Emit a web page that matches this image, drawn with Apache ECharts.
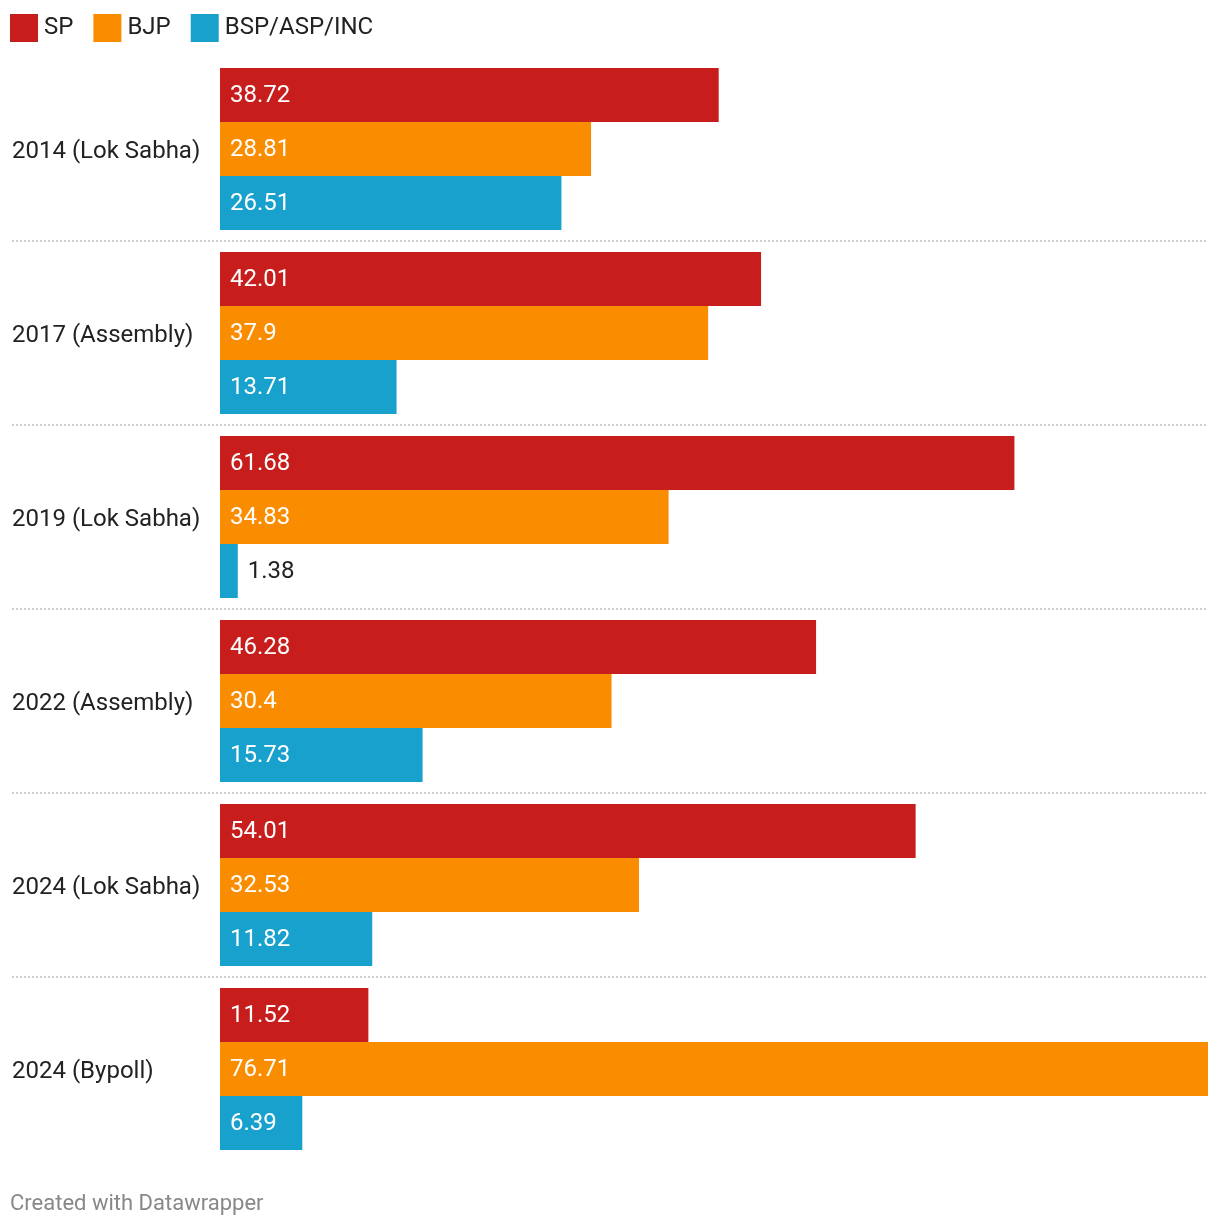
<!DOCTYPE html>
<html>
<head>
<meta charset="utf-8">
<script src="https://cdn.jsdelivr.net/npm/echarts@6/dist/echarts.min.js"></script>
<style>
html,body{margin:0;padding:0;background:#fff;}
#chart{width:1220px;height:1228px;}
</style>
</head>
<body>
<div id="chart"></div>
<script>
const categories = ['2014 (Lok Sabha)', '2017 (Assembly)', '2019 (Lok Sabha)', '2022 (Assembly)', '2024 (Lok Sabha)', '2024 (Bypoll)'];
const seriesNames = ['SP', 'BJP', 'BSP/ASP/INC'];
const spValues = [38.72, 42.01, 61.68, 46.28, 54.01, 11.52];
const bjpValues = [28.81, 37.9, 34.83, 30.4, 32.53, 76.71];
const bspValues = [26.51, 13.71, 1.38, 15.73, 11.82, 6.39];
const colors = ['#c71e1d', '#fa8c00', '#18a1cd'];

const allValues = spValues.concat(bjpValues, bspValues);
const maxVal = Math.max.apply(null, allValues);
const font = 'Roboto, "Noto Sans", sans-serif';

function makeData(vals) {
  return vals.map(function (v) {
    if (v < 5) {
      return { value: v, label: { position: 'right', color: '#222', distance: 10 } };
    }
    return { value: v };
  });
}

const valueSeries = [spValues, bjpValues, bspValues];

const series = valueSeries.map(function (vals, i) {
  return {
    name: seriesNames[i],
    type: 'bar',
    xAxisIndex: 1,
    yAxisIndex: 1,
    barWidth: 54,
    barGap: '0%',
    itemStyle: { color: colors[i] },
    label: {
      show: true,
      position: 'insideLeft',
      distance: 10,
      offset: [0, 1],
      color: '#fff',
      fontFamily: font,
      fontSize: 24,
      formatter: function (p) { return String(p.value); }
    },
    emphasis: { disabled: true },
    animation: false,
    data: makeData(vals)
  };
});

const chart = echarts.init(document.getElementById('chart'), null, { renderer: 'canvas' });
chart.setOption({
  backgroundColor: '#fff',
  animation: false,
  textStyle: { fontFamily: font },
  title: {
    text: 'Created with Datawrapper',
    left: 10,
    top: 1193,
    padding: 0,
    textStyle: { fontFamily: font, fontSize: 22, fontWeight: 'normal', color: '#888' }
  },
  legend: {
    data: seriesNames,
    left: 10,
    top: 14,
    padding: 0,
    itemWidth: 28,
    itemHeight: 28,
    itemGap: 20,
    icon: 'rect',
    selectedMode: false,
    textStyle: { fontFamily: font, fontSize: 24, color: '#222', padding: [0, 0, 0, 1] }
  },
  grid: [
    { left: 12, right: 12, top: 57, height: 1104 },
    { left: 220, right: 12, top: 57, height: 1104 }
  ],
  xAxis: [
    { gridIndex: 0, type: 'value', min: 0, max: 1, show: false },
    { gridIndex: 1, type: 'value', min: 0, max: maxVal, show: false }
  ],
  yAxis: [
    {
      gridIndex: 0, type: 'value', min: 0, max: categories.length, interval: 1, inverse: true,
      axisLine: { show: false }, axisTick: { show: false }, axisLabel: { show: false },
      splitLine: { show: true, showMinLine: false, showMaxLine: false, lineStyle: { color: '#cfcfcf', width: 2, type: [2, 2] } }
    },
    {
      gridIndex: 1, type: 'category', data: categories, inverse: true,
      axisLine: { show: false }, axisTick: { show: false }, splitLine: { show: false },
      axisLabel: {
        margin: 208, align: 'left', fontFamily: font, fontSize: 24, color: '#222',
        formatter: function (v) { return '{a|' + v + '}'; },
        rich: { a: { fontFamily: font, fontSize: 24, color: '#222', padding: [6, 0, 0, 0] } }
      }
    }
  ],
  series: series
});
</script>
</body>
</html>
